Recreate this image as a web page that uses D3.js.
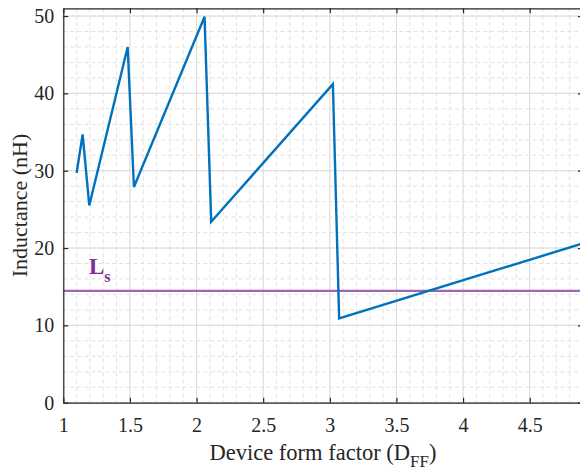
<!DOCTYPE html>
<html>
<head>
<meta charset="utf-8">
<script src="https://cdn.jsdelivr.net/npm/d3@7"></script>
<style>
  body { margin: 0; background: #fff; }
  text { font-family: "Liberation Serif", "DejaVu Serif", serif; }
</style>
</head>
<body>
<div id="chart"></div>
<script>
// inductance vs device form factor
const formFactor = [1.1, 1.145, 1.195, 1.483, 1.53, 2.06, 2.11, 3.023, 3.07, 4.9];
const inductance = [29.7, 34.7, 25.5, 46.0, 27.9, 49.9, 23.4, 41.2, 10.9, 20.6];
const lsValue = 14.45;
const xTicks = [1, 1.5, 2, 2.5, 3, 3.5, 4, 4.5];
const yTicks = [0, 10, 20, 30, 40, 50];

const width = 580;
const height = 471;
const margin = { left: 63.3, top: 8.3, right: 583, bottom: 402.7 };

const x = d3.scaleLinear().domain([1, 4.9]).range([margin.left, margin.right]);
const y = d3.scaleLinear().domain([0, 51]).range([margin.bottom, margin.top]);

const svg = d3.select("#chart")
    .append("svg")
    .attr("width", width)
    .attr("height", height);

svg.append("defs").append("clipPath").attr("id", "clip")
    .append("rect")
    .attr("x", margin.left).attr("y", margin.top)
    .attr("width", margin.right - margin.left)
    .attr("height", margin.bottom - margin.top);

const grid = svg.append("g");

// minor grid
const minorX = d3.range(1, 4.9001, 0.1).map(v => +v.toFixed(2));
const minorY = d3.range(0, 51, 2);
grid.selectAll("line.mx")
    .data(minorX)
    .enter().append("line")
    .attr("x1", d => x(d)).attr("x2", d => x(d))
    .attr("y1", margin.top).attr("y2", margin.bottom)
    .attr("stroke", "#e2e2e2")
    .attr("stroke-width", 1)
    .attr("stroke-dasharray", "4,3");
grid.selectAll("line.my")
    .data(minorY)
    .enter().append("line")
    .attr("y1", d => y(d)).attr("y2", d => y(d))
    .attr("x1", margin.left).attr("x2", margin.right)
    .attr("stroke", "#e2e2e2")
    .attr("stroke-width", 1)
    .attr("stroke-dasharray", "4,3");

// major grid
grid.selectAll("line.gx")
    .data(xTicks)
    .enter().append("line")
    .attr("x1", d => x(d)).attr("x2", d => x(d))
    .attr("y1", margin.top).attr("y2", margin.bottom)
    .attr("stroke", "#dcdcdc")
    .attr("stroke-width", 1);
grid.selectAll("line.gy")
    .data(yTicks)
    .enter().append("line")
    .attr("y1", d => y(d)).attr("y2", d => y(d))
    .attr("x1", margin.left).attr("x2", margin.right)
    .attr("stroke", "#dcdcdc")
    .attr("stroke-width", 1);

// Ls line
svg.append("line")
    .attr("x1", margin.left).attr("x2", margin.right)
    .attr("y1", y(lsValue)).attr("y2", y(lsValue))
    .attr("stroke", "#a066b2")
    .attr("stroke-width", 2.2);

const ls = svg.append("text")
    .attr("x", 89)
    .attr("y", 274)
    .attr("fill", "#7E2F8E")
    .attr("font-weight", "bold")
    .style("font-size", "23px");
ls.append("tspan").text("L");
ls.append("tspan").attr("dy", 8).style("font-size", "16px").text("s");

// data line
const pts = formFactor.map((d, i) => [d, inductance[i]]);
svg.append("path")
    .datum(pts)
    .attr("clip-path", "url(#clip)")
    .attr("d", d3.line().x(d => x(d[0])).y(d => y(d[1])))
    .attr("fill", "none")
    .attr("stroke", "#0072BD")
    .attr("stroke-width", 2.4)
    .attr("stroke-linejoin", "miter");

// axes
const axisColor = "#262626";
const xAxis = svg.append("g")
    .attr("transform", `translate(0,${margin.bottom})`)
    .call(d3.axisBottom(x).tickValues(xTicks).tickSizeInner(-5).tickSizeOuter(0).tickPadding(15)
        .tickFormat(d3.format("")));
const yAxis = svg.append("g")
    .attr("transform", `translate(${margin.left},0)`)
    .call(d3.axisLeft(y).tickValues(yTicks).tickSizeInner(-5).tickSizeOuter(0).tickPadding(9));
const topAxis = svg.append("g")
    .attr("transform", `translate(0,${margin.top})`)
    .call(d3.axisTop(x).tickValues(xTicks).tickSizeInner(-5).tickSizeOuter(0).tickFormat(""));
const rightAxis = svg.append("g")
    .attr("transform", `translate(${margin.right},0)`)
    .call(d3.axisRight(y).tickValues(yTicks).tickSizeInner(-5).tickSizeOuter(0).tickFormat(""));

[xAxis, yAxis, topAxis, rightAxis].forEach(g => {
    g.select(".domain").attr("stroke", axisColor).attr("stroke-width", 1.2);
    g.selectAll(".tick line").attr("stroke", axisColor).attr("stroke-width", 1.2);
    g.selectAll("text")
        .attr("fill", axisColor)
        .style("font-family", "Liberation Serif")
        .style("font-size", "20px");
});

// axis labels
const xl = svg.append("text")
    .attr("x", 323)
    .attr("y", 460)
    .attr("text-anchor", "middle")
    .attr("fill", axisColor)
    .style("font-size", "22.5px");
xl.append("tspan").text("Device form factor (D");
xl.append("tspan").attr("dy", 7).style("font-size", "17px").text("FF");
xl.append("tspan").attr("dy", -7).text(")");

svg.append("text")
    .attr("transform", `translate(27,${(margin.top + margin.bottom) / 2}) rotate(-90)`)
    .attr("text-anchor", "middle")
    .attr("fill", axisColor)
    .style("font-size", "22px")
    .text("Inductance (nH)");
</script>
</body>
</html>
